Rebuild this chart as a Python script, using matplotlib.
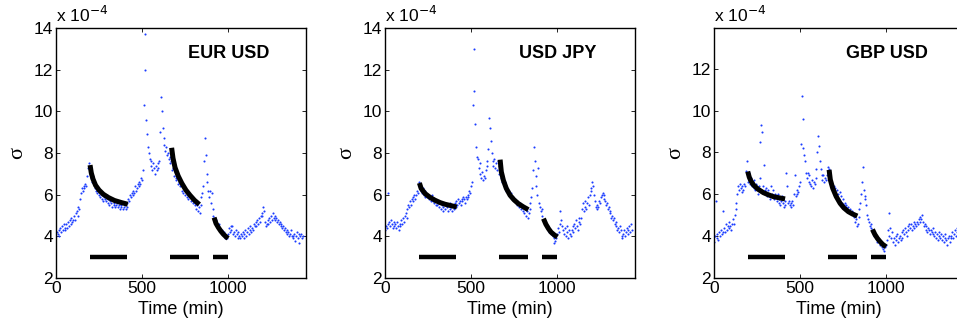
import numpy as np
import matplotlib
matplotlib.use("Agg")
import matplotlib.pyplot as plt

plt.rcParams['font.family'] = ['Liberation Sans', 'DejaVu Sans']

# Intraday volatility (units of 1e-4), one value every 5 minutes, one row per hour
step = 5
eur_usd = [
    4.0, 4.2, 4.1, 4.3, 4.0, 4.4, 4.2, 4.5, 4.3, 4.6, 4.4, 4.3,
    4.6, 4.4, 4.7, 4.5, 4.8, 4.6, 4.9, 4.7, 4.8, 5.0, 4.8, 5.1,
    5.2, 5.0, 5.4, 5.3, 5.8, 6.1, 6.3, 6.2, 6.4, 6.3, 6.5, 6.4,
    6.9, 7.3, 7.5, 7.2, 7.0, 6.8, 6.6, 6.9, 6.5, 6.3, 6.4, 6.2,
    6.1, 6.3, 6.0, 5.9, 6.1, 5.8, 6.0, 5.7, 5.9, 5.8, 5.7, 6.0,
    5.6, 5.8, 5.5, 5.7, 5.6, 5.4, 5.8, 5.5, 5.6, 5.4, 5.5, 5.6,
    5.4, 5.5, 5.3, 5.5, 5.4, 5.6, 5.3, 5.4, 5.5, 5.3, 5.4, 5.6,
    5.8, 5.7, 6.0, 5.9, 6.1, 6.0, 6.2, 6.1, 6.4, 6.2, 6.3, 6.5,
    6.4, 6.6, 6.5, 6.8, 6.7, 7.2, 10.3, 13.7, 12.0, 9.6, 8.9, 8.3,
    8.0, 7.7, 7.4, 7.6, 7.2, 7.5, 7.3, 7.0, 7.4, 7.2, 7.5, 7.3,
    7.6, 9.0, 10.7, 10.0, 9.2, 8.7, 8.4, 8.1, 8.3, 7.9, 8.0, 7.7,
    7.8, 7.5, 7.6, 7.2, 7.3, 6.9, 7.1, 6.8, 6.7, 6.9, 6.5, 6.6,
    6.4, 6.5, 6.2, 6.4, 6.1, 6.3, 6.0, 6.2, 5.9, 6.1, 5.8, 6.0,
    5.9, 5.7, 5.8, 5.6, 5.7, 5.5, 5.6, 5.3, 5.5, 5.2, 5.4, 5.1,
    5.5, 5.9, 6.1, 6.4, 7.6, 8.7, 7.9, 7.0, 6.6, 6.2, 5.9, 6.2,
    5.6, 6.1, 5.3, 5.0, 4.9, 4.7, 4.8, 4.6, 4.5, 4.6, 4.4, 4.3,
    4.2, 4.3, 4.1, 4.2, 4.0, 3.9, 4.0, 3.9, 4.1, 4.4, 4.2, 4.5,
    4.3, 4.5, 4.1, 4.2, 4.0, 4.3, 4.1, 3.9, 4.2, 4.0, 3.9, 4.1,
    4.0, 4.2, 3.9, 4.1, 4.3, 4.0, 4.2, 4.4, 4.1, 4.3, 4.5, 4.2,
    4.4, 4.3, 4.6, 4.5, 4.7, 4.5, 4.8, 4.6, 4.9, 4.7, 5.0, 5.1,
    5.0, 5.4, 5.2, 4.7, 4.5, 4.6, 4.8, 4.6, 4.9, 4.7, 5.0, 4.8,
    5.1, 4.9, 5.0, 4.8, 4.9, 4.7, 4.8, 4.6, 4.7, 4.5, 4.6, 4.4,
    4.5, 4.3, 4.4, 4.2, 4.3, 4.1, 4.2, 4.0, 4.1, 4.3, 4.0, 3.9,
    4.0, 4.1, 3.8, 4.0, 4.2, 3.9, 4.1, 3.7, 4.0, 4.1, 3.9, 4.0,
]
usd_jpy = [
    4.3, 4.5, 4.4, 4.6, 6.1, 4.7, 4.5, 4.8, 4.6, 4.4, 4.7, 4.5,
    4.6, 4.4, 4.7, 4.5, 4.3, 4.6, 4.5, 4.8, 4.6, 4.9, 4.7, 5.0,
    5.1, 4.9, 5.3, 5.5, 5.4, 5.7, 5.5, 5.8, 5.7, 5.9, 6.0, 5.8,
    6.0, 6.2, 6.1, 6.4, 6.6, 6.3, 6.2, 6.1, 6.3, 6.0, 6.2, 5.9,
    6.1, 5.9, 6.0, 5.8, 5.9, 5.7, 5.8, 6.0, 5.7, 5.6, 5.8, 5.5,
    5.7, 5.5, 5.6, 5.4, 5.6, 5.3, 5.5, 5.2, 5.4, 5.6, 5.3, 5.5,
    5.4, 5.2, 5.5, 5.3, 5.6, 5.4, 5.2, 5.5, 5.3, 5.6, 5.4, 5.7,
    5.5, 5.8, 5.6, 5.7, 5.5, 5.8, 5.7, 5.9, 5.8, 5.6, 5.9, 5.8,
    5.9, 6.0, 6.2, 6.1, 6.4, 6.6, 10.3, 13.0, 11.0, 9.4, 8.3, 7.8,
    7.7, 7.3, 7.5, 7.0, 6.8, 7.1, 6.7, 6.9, 6.8, 7.2, 7.4, 7.6,
    8.2, 9.7, 9.2, 8.6, 8.0, 7.6, 7.4, 7.7, 7.3, 7.5, 7.2, 7.6,
    7.4, 7.0, 7.2, 6.8, 6.6, 6.9, 6.5, 6.4, 6.6, 6.2, 6.3, 6.1,
    6.2, 6.0, 5.9, 6.1, 5.8, 5.9, 5.7, 5.8, 5.6, 5.7, 5.5, 5.6,
    5.4, 5.6, 5.3, 5.5, 5.2, 5.4, 5.1, 5.3, 5.0, 5.2, 4.9, 5.1,
    5.3, 5.6, 5.9, 6.3, 7.2, 8.3, 7.6, 6.9, 6.4, 6.0, 7.3, 5.6,
    5.4, 5.2, 5.3, 5.0, 4.8, 4.7, 4.6, 4.5, 4.4, 4.5, 4.3, 4.2,
    4.3, 4.1, 4.2, 4.0, 3.9, 3.7, 3.8, 3.9, 4.1, 4.4, 4.2, 4.6,
    5.2, 4.8, 4.5, 4.3, 4.1, 4.4, 4.0, 4.2, 4.5, 3.9, 4.3, 4.1,
    4.0, 4.3, 4.5, 4.2, 4.6, 4.4, 4.8, 4.5, 4.3, 4.7, 4.9, 4.6,
    4.9, 5.3, 5.6, 5.2, 5.4, 5.7, 5.3, 5.6, 5.9, 5.5, 6.0, 6.2,
    6.3, 6.6, 6.4, 6.0, 5.7, 5.4, 5.3, 5.5, 5.4, 5.7, 5.6, 5.9,
    6.0, 6.1, 5.8, 6.0, 5.7, 5.5, 5.6, 5.3, 5.4, 5.1, 5.2, 4.9,
    5.0, 4.8, 4.9, 4.6, 4.7, 4.5, 4.3, 4.4, 4.2, 4.5, 4.3, 4.0,
    3.9, 4.1, 4.3, 4.0, 4.2, 4.4, 4.1, 4.3, 4.5, 4.2, 4.6, 4.3,
]
gbp_usd = [
    3.7, 4.0, 5.7, 3.9, 4.1, 3.8, 4.2, 4.0, 4.3, 4.1, 5.2, 4.2,
    4.4, 4.2, 4.6, 4.3, 4.5, 4.4, 4.7, 4.5, 4.3, 4.6, 4.8, 4.6,
    5.0, 5.3, 5.6, 6.0, 6.4, 6.2, 6.5, 6.3, 6.1, 6.4, 6.2, 6.5,
    6.4, 7.1, 7.6, 6.9, 6.6, 7.0, 6.5, 6.8, 6.4, 6.6, 6.3, 6.7,
    6.2, 6.5, 6.3, 6.0, 6.4, 6.8, 8.5, 9.3, 9.0, 6.4, 7.4, 6.2,
    6.1, 6.3, 5.9, 6.2, 6.0, 5.8, 6.4, 6.0, 5.9, 6.2, 5.8, 6.0,
    5.9, 5.7, 6.0, 5.6, 5.8, 5.5, 5.7, 5.9, 5.6, 5.4, 5.7, 5.5,
    7.0, 6.4, 5.6, 5.7, 5.5, 5.6, 5.4, 5.7, 5.5, 6.0, 6.9, 5.9,
    6.0, 6.2, 6.1, 6.4, 6.6, 8.4, 10.7, 9.6, 8.2, 7.9, 7.6, 7.0,
    6.8, 7.0, 6.6, 6.9, 6.5, 6.4, 6.7, 6.3, 6.6, 6.5, 6.8, 7.2,
    8.0, 8.8, 8.3, 7.6, 7.2, 6.9, 6.7, 6.9, 6.6, 6.8, 6.7, 6.9,
    7.3, 7.0, 7.2, 6.8, 6.6, 6.5, 6.3, 6.4, 6.1, 6.3, 6.0, 6.2,
    6.0, 5.8, 6.1, 5.7, 5.9, 5.6, 5.8, 5.5, 5.6, 5.4, 5.5, 5.3,
    5.4, 5.2, 5.3, 5.1, 5.2, 5.0, 5.1, 4.9, 4.7, 4.8, 4.5, 4.6,
    4.9, 5.3, 5.6, 6.0, 6.6, 7.3, 6.2, 5.8, 5.9, 5.5, 5.0, 4.8,
    4.7, 4.5, 4.6, 4.4, 4.3, 4.2, 4.0, 4.1, 3.9, 3.8, 3.7, 3.9,
    3.8, 3.6, 3.7, 3.5, 3.4, 3.6, 3.3, 3.5, 3.6, 3.8, 4.3, 4.0,
    5.1, 4.4, 3.9, 4.2, 3.7, 3.9, 3.6, 4.0, 3.8, 4.1, 3.7, 3.9,
    4.0, 3.8, 4.2, 3.9, 4.3, 4.1, 4.4, 4.2, 4.0, 4.5, 4.3, 4.6,
    4.4, 4.6, 4.3, 4.5, 4.7, 4.4, 4.6, 4.5, 4.7, 4.6, 4.8, 4.7,
    4.9, 4.8, 5.0, 4.7, 4.5, 4.6, 4.3, 4.5, 4.2, 4.4, 4.3, 4.1,
    4.3, 4.2, 4.4, 4.1, 4.0, 4.2, 3.9, 4.1, 3.8, 4.0, 4.2, 3.9,
    4.1, 3.8, 4.0, 3.7, 3.9, 4.1, 3.8, 3.6, 3.9, 4.0, 3.7, 3.9,
    4.0, 4.2, 3.9, 4.1, 4.3, 4.0, 4.2, 4.4, 4.1, 4.3, 4.0, 4.2,
]

# Fitted relaxation curves after each news event: (minutes, sigma) pairs
fits_eur = [
    ([198, 205, 215, 230, 250, 275, 305, 340, 380, 417],
     [7.42, 7.05, 6.75, 6.45, 6.22, 6.02, 5.86, 5.72, 5.62, 5.54]),
    ([672, 680, 692, 710, 731, 755, 779, 805, 833],
     [8.25, 7.75, 7.30, 6.90, 6.55, 6.22, 5.97, 5.73, 5.53]),
    ([919, 930, 944, 958, 973, 988, 1000],
     [4.90, 4.62, 4.42, 4.25, 4.10, 3.98, 3.90]),
]
fits_jpy = [
    ([200, 210, 233, 260, 291, 320, 349, 385, 417],
     [6.56, 6.30, 6.05, 5.88, 5.73, 5.62, 5.54, 5.47, 5.41]),
    ([669, 676, 688, 705, 727, 750, 775, 805, 833],
     [7.68, 7.10, 6.69, 6.30, 5.97, 5.75, 5.57, 5.41, 5.28]),
    ([921, 935, 950, 965, 985, 1002],
     [4.85, 4.58, 4.37, 4.20, 4.06, 3.97]),
]
fits_gbp = [
    ([196, 205, 215, 229, 255, 287, 315, 345, 380, 413],
     [7.09, 6.82, 6.63, 6.45, 6.25, 6.08, 5.98, 5.89, 5.83, 5.78]),
    ([669, 676, 690, 710, 733, 755, 781, 805, 833],
     [7.17, 6.70, 6.29, 5.90, 5.57, 5.35, 5.17, 5.06, 4.96]),
    ([921, 935, 950, 965, 980, 1000],
     [4.32, 4.08, 3.89, 3.74, 3.61, 3.49]),
]

# Fit windows (start, end) in minutes, drawn as bars at sigma = 3
windows = [(195, 415), (665, 830), (915, 1000)]
bar_level = 3.0

pairs = ["EUR USD", "USD JPY", "GBP USD"]
series = [eur_usd, usd_jpy, gbp_usd]
fits = [fits_eur, fits_jpy, fits_gbp]
ytop = [14, 14, 13.95]

W, H = 957, 328
fig = plt.figure(figsize=(W / 100, H / 100), dpi=100)
lefts = [56, 385, 714]
for i in range(3):
    ax = fig.add_axes([lefts[i] / W, 50 / H, 250 / W, 250 / H])
    vals = np.asarray(series[i])
    t = np.arange(len(vals)) * step
    ax.plot(t, vals, linestyle='none', marker='.', ms=3.0, mew=0,
            color='#1a3cff')
    for ft, fv in fits[i]:
        ax.plot(ft, fv, color='black', lw=3.6, solid_capstyle='butt')
    for a, b in windows:
        ax.plot([a, b], [bar_level, bar_level], color='black', lw=3.2,
                solid_capstyle='butt')
    ax.set_xlim(0, 1453)
    ax.set_ylim(2, ytop[i])
    ax.set_xticks([0, 500, 1000])
    ax.set_yticks([y for y in range(2, 15, 2) if y <= ytop[i]])
    ax.tick_params(direction='in', length=3, width=0.6, top=True, right=True,
                   labelsize=12.5, pad=2, colors='black')
    for s in ax.spines.values():
        s.set_linewidth(1.0)
    ax.text(0.69, 0.9, pairs[i], transform=ax.transAxes, ha='center',
            va='center', fontsize=13, fontweight='bold')
    ax.text(0.0, 1.012, r'x 10$^{-4}$', transform=ax.transAxes, ha='left',
            va='bottom', fontsize=12.5)
    ax.set_xlabel('Time (min)', fontsize=13, labelpad=4)
    ax.set_ylabel('σ', fontsize=16, family=['Liberation Serif', 'DejaVu Serif'],
                  labelpad=5)

fig.savefig('out.png', dpi=100)
